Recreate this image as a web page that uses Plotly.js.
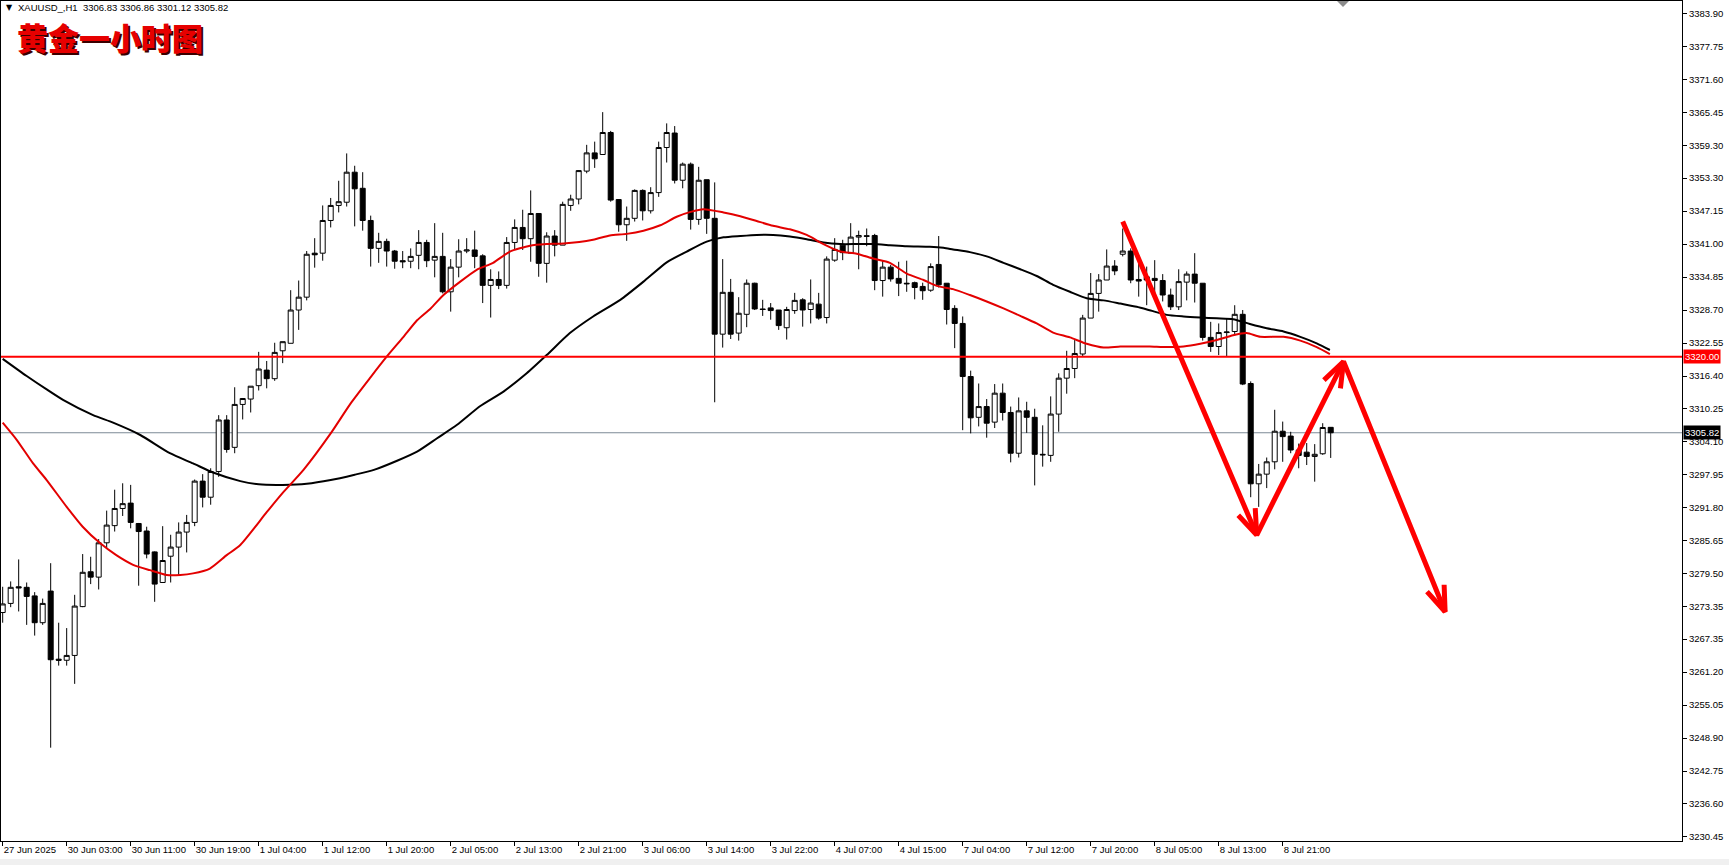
<!DOCTYPE html>
<html>
<head>
<meta charset="utf-8">
<script src="https://cdn.plot.ly/plotly-3.0.1.min.js"></script>
<style>
  html, body { margin: 0; padding: 0; background: #ffffff; }
  #chart { width: 1729px; height: 865px; }
</style>
</head>
<body>
<div id="chart"></div>
<script>
// ---------- DATA ----------
const barIndex = Array.from({length: 167}, (_, i) => i); // consecutive H1 bars, 27 Jun 18:00 .. 9 Jul 03:00

const openP = [3272.3,3274.0,3277.1,3277.0,3275.4,3270.4,3276.3,3263.6,3263.4,3264.3,
3273.4,3279.9,3278.9,3285.3,3288.5,3291.7,3292.7,3288.9,3287.5,3283.6,
3277.9,3282.8,3284.5,3287.3,3289.1,3296.8,3293.8,3298.6,3308.2,3303.1,
3311.1,3312.1,3314.6,3317.5,3315.9,3321.1,3322.5,3328.7,3331.1,3339.3,
3339.3,3345.4,3348.2,3348.8,3354.4,3351.4,3345.4,3340.2,3341.5,3339.7,
3337.9,3337.8,3338.9,3341.3,3338.0,3338.7,3332.1,3336.7,3339.7,3339.9,
3338.8,3333.3,3334.4,3333.3,3341.3,3344.1,3342.0,3346.7,3337.4,3342.5,
3340.8,3348.2,3349.4,3354.6,3358.0,3357.7,3361.8,3349.3,3344.6,3345.8,
3351.0,3347.2,3350.6,3359.0,3361.7,3352.9,3355.9,3345.6,3353.0,3345.8,
3324.2,3332.0,3324.4,3327.9,3333.7,3328.9,3329.1,3328.7,3325.4,3328.6,
3330.6,3328.8,3329.8,3327.3,3338.0,3340.8,3339.3,3342.3,3342.55,3342.6,
3334.2,3336.7,3334.6,3333.7,3333.8,3333.1,3332.4,3337.2,3333.7,3329.0,
3326.2,3316.3,3308.7,3310.7,3307.8,3313.2,3309.6,3302.0,3309.9,3308.7,
3301.8,3301.6,3309.3,3316.0,3317.8,3320.5,3327.2,3331.8,3334.3,3336.9,
3339.1,3339.7,3334.4,3334.9,3334.6,3334.2,3331.5,3329.3,3333.9,3335.4,
3333.7,3323.6,3321.9,3324.5,3324.7,3327.9,3315.0,3296.3,3298.1,3300.4,
3306.1,3305.2,3302.6,3302.2,3301.4,3301.9,3306.83];

const highP = [3277.1,3278.1,3282.2,3277.9,3276.1,3274.9,3281.5,3270.4,3269.4,3275.6,
3283.2,3282.7,3286.0,3291.3,3295.2,3296.4,3296.1,3289.0,3288.3,3283.7,
3288.4,3286.8,3289.1,3290.5,3297.1,3298.1,3299.2,3309.1,3309.1,3314.3,
3312.3,3314.5,3320.9,3319.2,3322.6,3322.8,3332.4,3334.2,3339.7,3342.1,
3348.2,3349.6,3352.8,3357.9,3355.6,3354.4,3346.3,3343.1,3342.0,3339.9,
3339.7,3340.2,3343.6,3341.8,3344.9,3343.1,3338.2,3341.9,3342.1,3343.5,
3339.1,3336.3,3335.9,3342.3,3345.6,3347.4,3351.0,3346.7,3343.2,3343.6,
3348.9,3350.2,3354.8,3359.5,3360.1,3365.6,3362.1,3349.3,3348.0,3351.2,
3351.2,3351.6,3360.1,3363.5,3363.0,3356.2,3356.2,3355.4,3353.0,3352.5,
3338.2,3334.5,3331.1,3334.4,3333.8,3330.6,3330.0,3328.7,3329.3,3331.9,
3330.9,3334.4,3331.9,3338.7,3342.1,3341.8,3344.9,3343.5,3343.9,3342.9,
3338.0,3337.1,3337.7,3337.9,3334.0,3333.8,3337.4,3342.5,3333.7,3329.6,
3327.5,3317.4,3315.0,3312.1,3314.9,3315.0,3310.7,3312.4,3311.6,3310.3,
3307.2,3312.6,3316.9,3321.1,3323.1,3327.8,3335.6,3335.4,3340.0,3338.0,
3343.9,3340.2,3337.4,3336.8,3338.0,3335.4,3332.7,3336.3,3335.9,3339.3,
3333.7,3326.5,3326.2,3327.2,3329.6,3328.7,3315.4,3300.0,3301.2,3310.1,
3307.9,3306.0,3303.8,3303.9,3303.7,3307.6,3306.86];

const lowP = [3270.4,3273.3,3272.5,3270.0,3268.0,3270.0,3247.1,3262.4,3262.4,3259.0,
3273.3,3277.6,3276.6,3284.3,3287.4,3290.3,3288.0,3277.3,3282.4,3274.3,
3277.8,3277.9,3279.3,3283.5,3288.4,3291.9,3292.4,3297.6,3302.1,3302.0,
3308.3,3309.6,3313.7,3314.1,3315.5,3318.8,3322.5,3325.0,3330.5,3336.6,
3337.9,3344.1,3346.9,3348.0,3344.3,3343.5,3336.8,3337.5,3336.8,3336.4,
3336.5,3336.5,3336.3,3336.7,3334.8,3331.8,3328.4,3334.8,3339.3,3336.5,
3330.0,3327.3,3332.6,3332.7,3340.0,3339.9,3337.7,3334.9,3333.8,3338.7,
3340.8,3347.2,3348.4,3354.2,3355.2,3357.7,3348.9,3343.3,3341.6,3345.2,
3345.4,3346.7,3349.8,3356.2,3352.3,3351.4,3343.7,3344.6,3342.9,3311.5,
3321.7,3323.3,3323.0,3325.5,3328.7,3327.6,3326.9,3325.0,3323.2,3328.0,
3325.6,3326.2,3326.9,3326.2,3337.7,3338.0,3339.3,3336.3,3340.6,3332.4,
3331.2,3334.0,3331.3,3332.1,3330.7,3330.6,3332.1,3332.9,3326.0,3321.6,
3306.3,3305.7,3307.0,3304.9,3306.7,3308.1,3300.3,3301.2,3305.8,3296.0,
3299.5,3300.4,3306.0,3313.1,3316.0,3320.0,3327.2,3328.4,3334.3,3335.2,
3338.7,3333.7,3331.2,3329.6,3330.9,3330.3,3328.7,3328.7,3330.5,3330.1,
3323.0,3320.9,3320.3,3320.0,3324.0,3314.7,3293.8,3292.0,3295.5,3299.0,
3300.4,3302.0,3299.2,3299.8,3296.7,3301.7,3301.12];

const closeP = [3273.9,3277.0,3276.9,3275.3,3270.4,3274.0,3263.5,3263.4,3264.3,3273.5,
3279.8,3278.9,3285.3,3288.6,3291.7,3292.6,3289.1,3287.4,3283.2,3277.6,
3282.0,3284.5,3287.3,3289.1,3296.8,3293.8,3298.6,3308.2,3302.7,3311.1,
3312.2,3314.5,3317.7,3315.9,3320.8,3322.8,3328.7,3331.1,3339.1,3339.0,
3345.4,3348.2,3348.9,3354.4,3351.3,3345.4,3340.2,3341.5,3339.7,3337.8,
3337.7,3338.7,3341.3,3337.9,3338.7,3332.1,3336.7,3339.7,3339.9,3338.7,
3333.3,3334.4,3333.3,3341.3,3344.1,3342.0,3346.7,3337.4,3342.5,3340.8,
3348.4,3349.4,3354.7,3358.0,3356.9,3361.8,3349.2,3344.6,3345.8,3351.0,
3347.2,3350.6,3359.0,3361.8,3352.9,3355.9,3345.6,3352.9,3345.8,3324.2,
3332.0,3324.2,3328.1,3333.7,3328.9,3328.8,3328.6,3325.8,3328.8,3330.5,
3328.7,3330.0,3327.2,3338.2,3340.0,3339.4,3342.3,3342.6,3342.45,3334.2,
3336.7,3334.5,3333.7,3333.6,3332.9,3332.3,3336.8,3333.4,3328.8,3326.2,
3316.3,3308.6,3310.7,3307.6,3313.2,3309.6,3302.0,3309.9,3308.7,3301.8,
3301.7,3309.3,3316.0,3317.8,3320.6,3327.2,3331.8,3334.3,3336.9,3336.0,
3339.7,3334.3,3334.1,3334.3,3334.2,3331.5,3329.3,3334.0,3335.4,3333.7,
3323.6,3321.9,3324.5,3324.6,3327.9,3314.9,3296.3,3298.1,3300.4,3306.1,
3305.1,3302.6,3301.6,3301.4,3301.8,3306.8,3305.82];

// fast (red) moving average, read at sampled bar positions
const redMaX = [0,1.75,3.8,5.5,8,10,12.2,14.2,16.3,18.4,20.5,22.2,23.8,25.9,28,29.7,33,35,37.6,41,
43.5,46,48,50.1,51.8,53.5,55.1,57.2,59.25,61.3,63.4,65.9,68,70.1,73.8,75.9,78,80.1,82.2,84.25,
86,87.6,90.1,92.2,94.25,96.3,98.4,100.5,102.6,104.7,106.75,108.8,110.9,113,115.1,116.75,118.8,120.9,123,125.1,
127.2,129.25,131.3,133.4,135.5,137.6,139.7,141.75,143.4,145.5,147.6,149.7,151.75,153.8,155.5,157.2,160.1,162.2,164.25,165.9];
const redMaY = [3307.7,3304.5,3300.1,3297.0,3292.0,3288.3,3285.2,3283.0,3281.2,3280.2,3279.3,3279.3,3279.6,3280.5,3283.0,3284.9,3291.0,3294.6,3298.9,3305.7,
3311.3,3316.2,3320.0,3323.7,3326.8,3329.0,3331.5,3334.0,3336.2,3337.5,3339.6,3340.7,3341.0,3341.1,3341.8,3342.6,3342.9,3343.5,3344.5,3346.1,
3347.0,3347.5,3346.9,3346.2,3345.3,3344.4,3343.75,3342.7,3341.0,3339.6,3339.2,3338.3,3337.5,3335.5,3334.3,3333.2,3332.6,3331.5,3330.3,3329.0,
3327.6,3326.2,3324.5,3323.6,3322.4,3321.7,3321.9,3321.9,3321.9,3321.8,3321.9,3322.4,3323.1,3324.0,3324.4,3323.7,3323.7,3323.0,3321.8,3320.5];

// slow (black) moving average
const blackMaX = [0,3,5.5,7.6,11.3,13.8,17.2,20.9,23.8,26.3,29.7,32,35,38,41,44,46.4,49.3,51.8,54.3,
56.8,59.7,62.6,65.5,68,70.9,73.8,77.2,80.1,83,85.5,88,90.1,92.2,94.25,96.3,98.4,100.5,102.6,104.7,
106.75,108.8,110.9,113,115.9,117.6,118.8,120.9,123,125.1,127.2,129.25,131.3,133.4,135.5,137.6,139.7,141.75,143.5,145.5,
147.6,149.7,151.75,153.8,155.9,158,160.1,162.2,164.25,165.9];
const blackMaY = [3319.6,3316.4,3313.9,3311.9,3309.1,3307.7,3305.4,3302.0,3300.1,3298.4,3296.8,3296.2,3296.1,3296.3,3297.0,3298.0,3298.9,3300.6,3302.3,3304.8,
3307.3,3310.8,3313.5,3316.9,3320.3,3324.4,3327.5,3330.6,3334.0,3337.6,3339.6,3341.45,3342.25,3342.5,3342.7,3342.7,3342.4,3341.9,3341.3,3341.0,
3341.0,3341.0,3340.8,3340.6,3340.5,3340.3,3340.0,3339.5,3338.7,3337.5,3336.3,3335.05,3333.4,3332.1,3330.9,3330.5,3329.9,3329.3,3328.6,3327.8,
3327.5,3327.3,3327.15,3327.0,3326.1,3325.3,3324.7,3323.7,3322.5,3321.25];

// x-axis labels (every 8 bars)
const xTickBars = [0,8,16,24,32,40,48,56,64,72,80,88,96,104,112,120,128,136,144,152,160];
const xTickLabels = ["27 Jun 2025","30 Jun 03:00","30 Jun 11:00","30 Jun 19:00","1 Jul 04:00","1 Jul 12:00",
  "1 Jul 20:00","2 Jul 05:00","2 Jul 13:00","2 Jul 21:00","3 Jul 06:00","3 Jul 14:00","3 Jul 22:00",
  "4 Jul 07:00","4 Jul 15:00","7 Jul 04:00","7 Jul 12:00","7 Jul 20:00","8 Jul 05:00","8 Jul 13:00","8 Jul 21:00"];

// price-axis labels
const yTickVals = [3383.90,3377.75,3371.60,3365.45,3359.30,3353.30,3347.15,3341.00,3334.85,3328.70,3322.55,
  3316.40,3310.25,3304.10,3297.95,3291.80,3285.65,3279.50,3273.35,3267.35,3261.20,3255.05,3248.90,3242.75,3236.60,3230.45];
const yTickText = yTickVals.map(v => v.toFixed(2));

// levels
const supportLevel = 3320.00;
const lastPrice = 3305.82;
const headerText = "XAUUSD_,H1  3306.83 3306.86 3301.12 3305.82";
const titleText = "黄金一小时图";

// hand-drawn forecast arrow path (bar, price)
const arrowBars = [140.0, 156.75, 167.6, 180.3];
const arrowPrices = [3345.2, 3286.75, 3319.1, 3272.45];

// ---------- LAYOUT CONSTANTS ----------
const W = 1729, H = 865;
const M = {l: 1, r: 47, t: 1, b: 24};
const xRange = [-0.21, 209.91];
const yRange = [3229.70, 3386.32];
const plotW = W - M.l - M.r, plotH = H - M.t - M.b;
const pxPerBar = plotW / (xRange[1] - xRange[0]);
const pxPerUnit = plotH / (yRange[1] - yRange[0]);
const axisFont = {family: "'Liberation Sans', Arial, sans-serif", size: 9.5, color: "#000000"};

// ---------- TRACES ----------
const candles = {
  type: "candlestick",
  x: barIndex, open: openP, high: highP, low: lowP, close: closeP,
  increasing: {line: {color: "#000000", width: 1}, fillcolor: "#ffffff"},
  decreasing: {line: {color: "#000000", width: 1}, fillcolor: "#000000"},
  whiskerwidth: 0,
  hoverinfo: "skip"
};
const blackMa = {type: "scatter", mode: "lines", x: blackMaX, y: blackMaY,
  line: {color: "#000000", width: 2, shape: "spline", smoothing: 0.6}, hoverinfo: "skip"};
const redMa = {type: "scatter", mode: "lines", x: redMaX, y: redMaY,
  line: {color: "#e30000", width: 2, shape: "spline", smoothing: 0.6}, hoverinfo: "skip"};

// arrow shafts
const shaft = {type: "scatter", mode: "lines", x: arrowBars, y: arrowPrices,
  line: {color: "#ff0000", width: 5}, hoverinfo: "skip"};
// arrow heads (open chevrons), built through the axis scales
const headLen = 27, headAngle = 20 * Math.PI / 180;
const hx = [], hy = [];
for (let i = 1; i < arrowBars.length; i++) {
  const x0 = arrowBars[i-1], y0 = arrowPrices[i-1], x1 = arrowBars[i], y1 = arrowPrices[i];
  const dx = (x1 - x0) * pxPerBar, dy = (y1 - y0) * pxPerUnit;
  const len = Math.hypot(dx, dy);
  const bx = -dx / len, by = -dy / len;
  const arms = [headAngle, -headAngle].map(a => {
    const c = Math.cos(a), s = Math.sin(a);
    const rx = bx * c - by * s, ry = bx * s + by * c;
    return [x1 + rx * headLen / pxPerBar, y1 + ry * headLen / pxPerUnit];
  });
  hx.push(arms[0][0], x1, arms[1][0], null);
  hy.push(arms[0][1], y1, arms[1][1], null);
}
const heads = {type: "scatter", mode: "lines", x: hx, y: hy,
  line: {color: "#ff0000", width: 5}, hoverinfo: "skip", connectgaps: false};

// ---------- LAYOUT ----------
const px2paperX = px => (px - M.l) / plotW;
const px2paperY = py => (H - M.b - py) / plotH;

const layout = {
  width: W, height: H,
  margin: {l: M.l, r: M.r, t: M.t, b: M.b, pad: 0},
  paper_bgcolor: "#ffffff", plot_bgcolor: "#ffffff",
  showlegend: false,
  boxgap: 0.375, boxgroupgap: 0,
  hovermode: false,
  xaxis: {
    range: xRange, showgrid: false, zeroline: false,
    showline: true, linecolor: "#000000", linewidth: 1, mirror: true,
    ticks: "outside", ticklen: 4, tickwidth: 1, tickcolor: "#000000",
    tickmode: "array", tickvals: xTickBars, ticktext: xTickLabels,
    ticklabelposition: "outside right",
    tickfont: axisFont,
    rangeslider: {visible: false}, fixedrange: true
  },
  yaxis: {
    side: "right", range: yRange, showgrid: false, zeroline: false,
    showline: true, linecolor: "#000000", linewidth: 1, mirror: true,
    ticks: "outside", ticklen: 4, tickwidth: 1, tickcolor: "#000000",
    tickmode: "array", tickvals: yTickVals, ticktext: yTickText,
    tickfont: axisFont, fixedrange: true
  },
  shapes: [
    {type: "line", xref: "paper", x0: 0, x1: 1, yref: "y", y0: lastPrice, y1: lastPrice,
     line: {color: "#7d8a96", width: 1}, layer: "below"},
    {type: "line", xref: "paper", x0: 0, x1: 1, yref: "y", y0: supportLevel, y1: supportLevel,
     line: {color: "#ff0000", width: 2}, layer: "above"},
    // chart-shift marker at the top edge
    {type: "path", xref: "paper", yref: "paper",
     path: `M${px2paperX(1337)},${px2paperY(1)} L${px2paperX(1349)},${px2paperY(1)} L${px2paperX(1343)},${px2paperY(7)} Z`,
     fillcolor: "#8c8c8c", line: {width: 0}, layer: "above"},
    // light strip at the bottom of the window
    {type: "rect", xref: "paper", yref: "paper",
     x0: px2paperX(0), x1: px2paperX(W), y0: px2paperY(859), y1: px2paperY(H + 2),
     fillcolor: "#f0f0f0", line: {width: 0}, layer: "below"}
  ],
  annotations: [
    {xref: "paper", yref: "paper", x: px2paperX(4), y: px2paperY(8), xanchor: "left", yanchor: "middle",
     text: "▼", showarrow: false, font: {family: "'DejaVu Sans', sans-serif", size: 8, color: "#000000"}},
    {xref: "paper", yref: "paper", x: px2paperX(16), y: px2paperY(8), xanchor: "left", yanchor: "middle",
     text: headerText, showarrow: false, font: {family: "'Liberation Sans', Arial, sans-serif", size: 9.5, color: "#000000"}},
    {xref: "paper", yref: "paper", x: px2paperX(15), y: px2paperY(37), xanchor: "left", yanchor: "middle",
     xshift: 2, yshift: -2,
     text: titleText, showarrow: false, font: {family: "'Noto Sans CJK SC', sans-serif", size: 31, color: "#3a0000", weight: 900}},
    {xref: "paper", yref: "paper", x: px2paperX(15), y: px2paperY(37), xanchor: "left", yanchor: "middle",
     text: titleText, showarrow: false, font: {family: "'Noto Sans CJK SC', sans-serif", size: 31, color: "#e60000", weight: 900}},
    {xref: "paper", yref: "y", x: px2paperX(1683), y: supportLevel, xanchor: "left", yanchor: "middle",
     text: supportLevel.toFixed(2), showarrow: false, bgcolor: "#ff0000", borderpad: 1,
     font: {family: "'Liberation Sans', Arial, sans-serif", size: 9.5, color: "#ffffff"}},
    {xref: "paper", yref: "y", x: px2paperX(1683), y: lastPrice, xanchor: "left", yanchor: "middle",
     text: lastPrice.toFixed(2), showarrow: false, bgcolor: "#000000", borderpad: 1,
     font: {family: "'Liberation Sans', Arial, sans-serif", size: 9.5, color: "#ffffff"}}
  ]
};

Plotly.newPlot("chart", [candles, blackMa, redMa, shaft, heads], layout,
  {displayModeBar: false, staticPlot: true, responsive: false});
</script>
</body>
</html>
